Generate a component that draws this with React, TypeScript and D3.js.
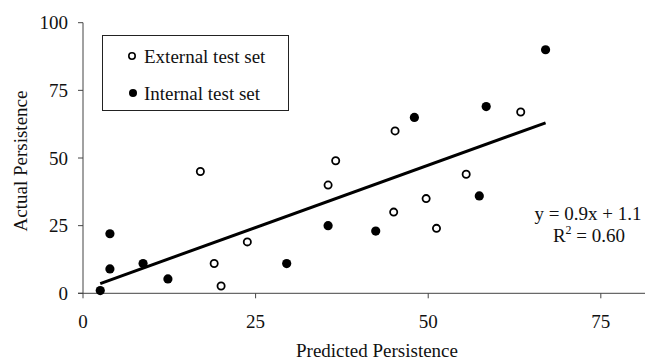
import React from 'react';
import * as d3 from 'd3';

// External test set (open circles)
const externalX = [17, 19, 20, 23.8, 35.5, 36.6, 45, 45.2, 49.7, 51.2, 55.5, 63.4];
const externalY = [45, 11, 2.7, 19, 40, 49, 30, 60, 35, 24, 44, 67];

// Internal test set (filled circles)
const internalX = [2.5, 3.9, 3.9, 8.7, 12.3, 29.5, 35.5, 42.4, 48, 57.4, 58.4, 67];
const internalY = [1, 22, 9, 11, 5.3, 11, 25, 23, 65, 36, 69, 90];

// regression line end points
const trendX = [2.5, 67];
const trendY = [3.6, 63];

const xTicks = [0, 25, 50, 75];
const yTicks = [0, 25, 50, 75, 100];

const legendLabels = ['External test set', 'Internal test set'];
const equationLines = ['y = 0.9x + 1.1', 'R', '2', ' = 0.60'];

const font = '"Liberation Serif", "Times New Roman", serif';
const fs = 19;

const App = () => {
  const width = 645;
  const height = 362;

  // Set up scales
  const x = d3.scaleLinear().domain([0, 81.4]).range([83, 645]);
  const y = d3.scaleLinear().domain([0, 100]).range([293.3, 22.7]);

  const line = d3.line<number>()
    .x((d, i) => x(trendX[i]))
    .y(d => y(d));

  const axisColor = '#444';

  return (
    <svg
      width={width}
      height={height}
      style={{ position: 'absolute', left: 0, top: 0, background: '#fff' }}
      fontFamily={font}
    >
      {/* y axis */}
      <line x1={x(0)} x2={x(0)} y1={y(100)} y2={y(0)} stroke={axisColor} strokeWidth={1} />
      {yTicks.map(t => (
        <g key={'y' + t}>
          <line x1={x(0) - 5} x2={x(0)} y1={y(t)} y2={y(t)} stroke={axisColor} />
          <text x={68} y={y(t) + 6.5} textAnchor="end" fontSize={fs} fill="#111">{t}</text>
        </g>
      ))}

      {/* x axis */}
      <line x1={x(0) - 5} x2={645} y1={y(0)} y2={y(0)} stroke={axisColor} strokeWidth={1} />
      {xTicks.map(t => (
        <g key={'x' + t}>
          <line x1={x(t)} x2={x(t)} y1={y(0)} y2={y(0) + 5} stroke={axisColor} />
          <text x={x(t)} y={328} textAnchor="middle" fontSize={fs} fill="#111">{t}</text>
        </g>
      ))}

      {/* axis titles */}
      <text x={377} y={357} textAnchor="middle" fontSize={fs} fill="#111">Predicted Persistence</text>
      <text
        transform="translate(27,161) rotate(-90)"
        textAnchor="middle"
        fontSize={fs}
        fill="#111"
      >
        Actual Persistence
      </text>

      {/* trend line */}
      <path d={line(trendY) || ''} fill="none" stroke="#000" strokeWidth={3} />

      {/* points */}
      {externalX.map((d, i) => (
        <circle key={'e' + i} cx={x(d)} cy={y(externalY[i])} r={3.6}
          fill="#fff" stroke="#000" strokeWidth={1.8} />
      ))}
      {internalX.map((d, i) => (
        <circle key={'i' + i} cx={x(d)} cy={y(internalY[i])} r={4.6} fill="#000" />
      ))}

      {/* legend */}
      <rect x={102.5} y={35.5} width={186} height={75} fill="#fff" stroke="#222" strokeWidth={1} />
      <circle cx={132} cy={56} r={3.2} fill="#fff" stroke="#000" strokeWidth={1.6} />
      <text x={144} y={62.5} fontSize={fs} fill="#111">{legendLabels[0]}</text>
      <circle cx={133} cy={93} r={4} fill="#000" />
      <text x={144} y={99.5} fontSize={fs} fill="#111">{legendLabels[1]}</text>

      {/* equation */}
      <text x={588} y={220} textAnchor="middle" fontSize={fs} fill="#111">{equationLines[0]}</text>
      <text x={589} y={242} textAnchor="middle" fontSize={fs} fill="#111">
        {equationLines[1]}
        <tspan fontSize={12} dy={-8}>{equationLines[2]}</tspan>
        <tspan dy={8}>{equationLines[3]}</tspan>
      </text>
    </svg>
  );
};

export default App;
